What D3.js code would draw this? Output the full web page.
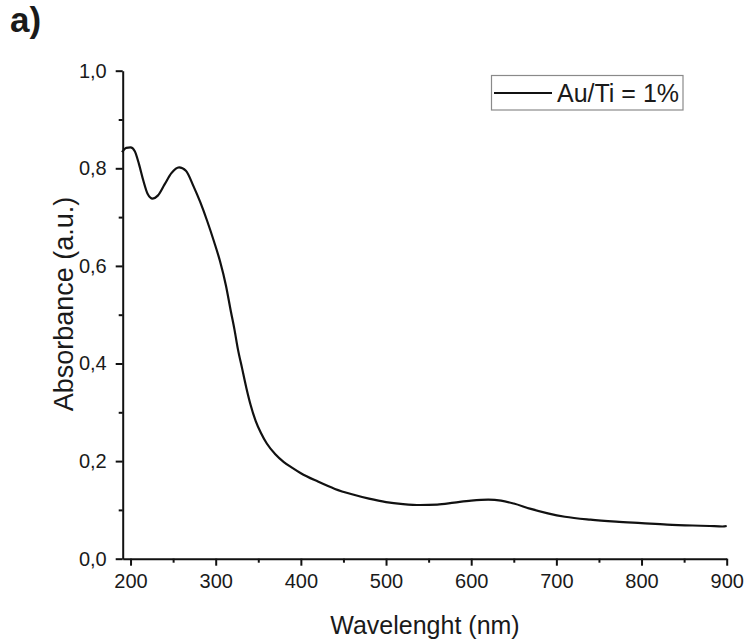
<!DOCTYPE html>
<html>
<head>
<meta charset="utf-8">
<script src="https://cdn.jsdelivr.net/npm/d3@7"></script>
<style>
  html, body { margin: 0; padding: 0; background: #fff; }
  svg { display: block; }
  text { font-family: "Liberation Sans", Arial, sans-serif; fill: #1a1a1a; }
</style>
</head>
<body>
<svg id="chart" width="748" height="640"></svg>
<script>
// ---- data ----
const wavelength = [190,195,200,205,210,215,220,226,232,240,248,257,265,274,282,290,298,305,312,318,322,326,331,336,341,347,353,360,370,380,390,400,420,440,460,480,500,520,540,560,580,600,620,635,650,670,690,710,740,770,800,830,860,880,895,900];
const absorbance = [0.833,0.842,0.843,0.835,0.808,0.775,0.748,0.738,0.744,0.767,0.790,0.802,0.795,0.763,0.730,0.692,0.650,0.610,0.560,0.505,0.470,0.430,0.390,0.350,0.315,0.282,0.258,0.236,0.214,0.198,0.186,0.175,0.158,0.143,0.132,0.123,0.116,0.112,0.110,0.111,0.115,0.119,0.121,0.119,0.113,0.102,0.093,0.086,0.080,0.076,0.073,0.070,0.068,0.067,0.066,0.067];
const xTicks = [200,300,400,500,600,700,800,900];
const xMinorTicks = [250,350,450,550,650,750,850];
const yTicks = [0,0.2,0.4,0.6,0.8,1.0];
const yMinorTicks = [0.1,0.3,0.5,0.7,0.9];
const seriesName = "Au/Ti = 1%";
const xTitle = "Wavelenght (nm)";
const yTitle = "Absorbance (a.u.)";
const panelLabel = "a)";

// ---- layout ----
const svg = d3.select("#chart");
const x = d3.scaleLinear().domain([190.8, 900]).range([122.7, 726.7]);
const y = d3.scaleLinear().domain([0, 1.0]).range([558.7, 70.7]);
const fmt = d => d.toFixed(1).replace(".", ",");

// x axis
const gx = svg.append("g").attr("transform", `translate(0,${y(0)})`);
gx.call(d3.axisBottom(x).tickValues(xTicks).tickSizeInner(7).tickSizeOuter(0).tickPadding(8).tickFormat(d3.format("d")));
gx.append("g").call(d3.axisBottom(x).tickValues(xMinorTicks).tickSize(4).tickFormat(""))
  .select(".domain").remove();
gx.selectAll("path.domain").attr("stroke", "#111").attr("stroke-width", 2);
gx.selectAll("line").attr("stroke", "#111").attr("stroke-width", 2);
gx.selectAll("text").attr("font-size", 20).attr("font-family", "Liberation Sans, Arial, sans-serif").attr("fill", "#1a1a1a");

// y axis
const gy = svg.append("g").attr("transform", `translate(${x.range()[0]},0)`);
gy.call(d3.axisLeft(y).tickValues(yTicks).tickSizeInner(7).tickSizeOuter(0).tickPadding(9).tickFormat(fmt));
gy.append("g").call(d3.axisLeft(y).tickValues(yMinorTicks).tickSize(4).tickFormat(""))
  .select(".domain").remove();
gy.selectAll("path.domain").attr("stroke", "#111").attr("stroke-width", 2);
gy.selectAll("line").attr("stroke", "#111").attr("stroke-width", 2);
gy.selectAll("text").attr("font-size", 20).attr("font-family", "Liberation Sans, Arial, sans-serif").attr("fill", "#1a1a1a");

// curve
const pts = wavelength.map((w, i) => [w, absorbance[i]]);
const line = d3.line().x(d => x(d[0])).y(d => y(d[1])).curve(d3.curveMonotoneX);
svg.append("path").datum(pts).attr("d", line)
  .attr("fill", "none").attr("stroke", "#111").attr("stroke-width", 2.2).attr("stroke-linejoin", "round");

// axis titles
svg.append("text").attr("x", 425).attr("y", 634).attr("text-anchor", "middle")
  .attr("font-size", 25).text(xTitle);
svg.append("text").attr("transform", `translate(73,304) rotate(-90)`).attr("text-anchor", "middle")
  .attr("font-size", 27).text(yTitle);

// legend
const lg = svg.append("g");
lg.append("rect").attr("x", 491.5).attr("y", 75.5).attr("width", 191.5).attr("height", 34.5)
  .attr("fill", "#fff").attr("stroke", "#8a8a8a").attr("stroke-width", 1.2);
lg.append("line").attr("x1", 494).attr("x2", 552).attr("y1", 93).attr("y2", 93)
  .attr("stroke", "#111").attr("stroke-width", 2.2);
lg.append("text").attr("x", 557).attr("y", 102).attr("font-size", 25).text(seriesName);

// panel label
svg.append("text").attr("x", 10).attr("y", 32).attr("font-size", 35).attr("font-weight", "bold")
  .attr("font-family", "Open Sans, Liberation Sans, sans-serif").text(panelLabel);
</script>
</body>
</html>
